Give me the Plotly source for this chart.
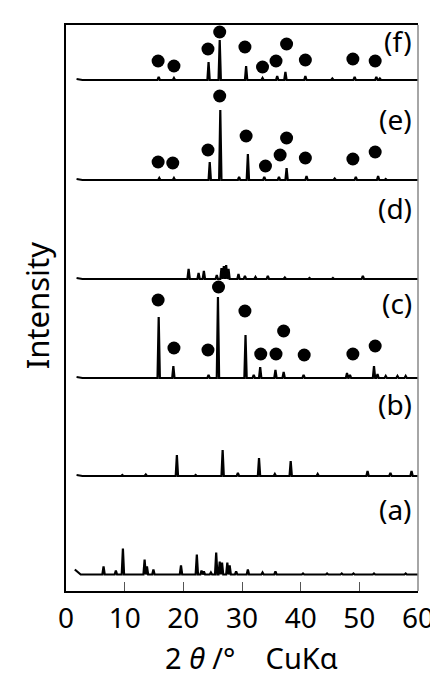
import plotly.graph_objects as go

# ---- data ----
x_ticks = [0, 10, 20, 30, 40, 50, 60]
labels = ["(a)", "(b)", "(c)", "(d)", "(e)", "(f)"]

# peak positions (2θ, deg) and heights (arb. units) per pattern
pos_a = [6.4, 8.5, 9.7, 13.4, 13.8, 14.9, 19.6, 22.3, 23.1, 23.5, 24.7, 25.6, 26.2, 26.6, 27.5, 27.9, 29.0, 31.0, 33.5, 35.7, 40.4, 44.5, 47.0, 49.0, 52.5, 57.9]
int_a = [8, 4, 26, 15, 8, 5, 9, 20, 4, 3, 2, 22, 13, 12, 12, 9, 3, 5, 2, 3, 1, 1, 1, 1, 1, 1]

pos_b = [9.6, 13.6, 18.9, 22.1, 26.7, 29.3, 32.9, 35.6, 38.3, 42.9, 51.4, 55.3, 58.9]
int_b = [1, 1.5, 21, 1, 26, 3, 18, 2, 15, 2, 5, 3, 5]

pos_c = [15.8, 18.3, 24.3, 25.9, 30.6, 32.0, 33.1, 35.7, 37.1, 40.5, 47.9, 48.4, 52.5, 53.1, 54.5, 56.5, 57.9]
int_c = [61, 12, 3, 81, 43, 3, 11, 8, 6, 3, 5, 3, 12, 4, 2, 2, 2]

pos_d = [20.9, 22.6, 23.5, 25.7, 26.5, 26.9, 27.3, 27.7, 29.4, 30.5, 32.3, 34.4, 37.3, 41.5, 45.5, 50.6]
int_d = [10, 6, 8, 4, 11, 13, 14, 10, 5, 3, 2, 3, 1.5, 1, 1, 3]

pos_e = [15.9, 18.4, 24.5, 26.3, 29.5, 31.0, 33.8, 36.3, 37.6, 41.0, 45.8, 49.4, 53.2, 54.5]
int_e = [2, 2, 18, 70, 3, 26, 3, 3, 12, 4, 1.5, 3, 4, 1]

pos_f = [15.8, 18.4, 24.3, 26.2, 30.7, 33.5, 36.0, 37.4, 40.8, 45.4, 49.2, 52.9, 53.5]
int_f = [3, 2, 18, 40, 14, 2, 4, 8, 4, 1.5, 3, 3, 1.5]

# start of each scan (2θ) and its initial intensity
start_x = [1.5, 1.8, 1.8, 1.8, 1.8, 1.8]
start_y = [5, 1, 1, 1, 1, 1]

# filled-circle phase markers (2θ, height above the pattern's baseline)
mark_c_x = [15.7, 18.4, 24.2, 26.0, 30.5, 33.2, 35.8, 37.1, 40.6, 48.9, 52.7]
mark_c_y = [78, 30, 28, 91, 67, 24, 24, 47, 23, 24, 32]
mark_e_x = [15.7, 18.2, 24.2, 26.2, 30.7, 34.0, 36.5, 37.6, 40.8, 48.9, 52.7]
mark_e_y = [18, 17, 30, 84, 44, 14, 25, 42, 22, 21, 28]
mark_f_x = [15.7, 18.4, 24.2, 26.2, 30.5, 33.5, 35.8, 37.6, 40.8, 48.9, 52.7]
mark_f_y = [19, 14, 31, 48, 33, 13, 19, 36, 20, 21, 19]

# ---- layout constants ----
offsets = [16.5, 115, 213, 312, 411, 511]       # vertical stacking offsets
label_y = [82, 187, 288, 383, 472, 550]
HALF_W = 0.2
X_END = 60

series = [(pos_a, int_a), (pos_b, int_b), (pos_c, int_c),
          (pos_d, int_d), (pos_e, int_e), (pos_f, int_f)]


def pattern(pos, inten, x0, y0, off):
    pts = [(x0, y0), (x0 + 1.0, 0.0), (X_END, 0.0)]
    for p, h in zip(pos, inten):
        pts += [(p - HALF_W, 0.0), (p, h), (p + HALF_W, 0.0)]
    pts.sort(key=lambda t: t[0])
    return [t[0] for t in pts], [t[1] + off for t in pts]


fig = go.Figure()
for i, (pos, inten) in enumerate(series):
    xs, ys = pattern(pos, inten, start_x[i], start_y[i], offsets[i])
    fig.add_trace(go.Scatter(x=xs, y=ys, mode="lines",
                             line=dict(color="black", width=2.2),
                             hoverinfo="skip", showlegend=False))

for mx, my, off in [(mark_c_x, mark_c_y, offsets[2]),
                    (mark_e_x, mark_e_y, offsets[4]),
                    (mark_f_x, mark_f_y, offsets[5])]:
    fig.add_trace(go.Scatter(x=mx, y=[v + off for v in my], mode="markers",
                             marker=dict(color="black", size=13),
                             hoverinfo="skip", showlegend=False))

for lab, ly in zip(labels, label_y):
    fig.add_annotation(x=59.4, y=ly, xref="x", yref="y", text=lab,
                       showarrow=False, xanchor="right", yanchor="middle",
                       font=dict(family="Noto Sans", size=28, color="black"))

fig.add_annotation(x=31.6, y=-0.117, xref="x", yref="paper",
                   text="2\u00a0<i>θ</i>\u00a0/°\u00a0\u00a0\u00a0\u00a0CuKα",
                   showarrow=False, xanchor="center", yanchor="middle",
                   borderpad=0,
                   font=dict(family="Noto Sans", size=29, color="black"))
fig.add_annotation(x=-0.082, y=0.505, xref="paper", yref="paper",
                   text="Intensity", textangle=-90,
                   showarrow=False, xanchor="center", yanchor="middle",
                   font=dict(family="Noto Sans", size=31, color="black"))

# right border (grey)
fig.add_shape(type="line", xref="paper", yref="paper", x0=1, x1=1, y0=0, y1=1,
              line=dict(color="#888888", width=1.5))

fig.update_layout(
    width=438, height=680,
    margin=dict(l=58, r=19, t=17, b=97),
    paper_bgcolor="white", plot_bgcolor="white",
    xaxis=dict(range=[0, 60], tickvals=x_ticks, ticks="inside", ticklen=9,
               tickcolor="#555555", tickwidth=1,
               showline=True, linecolor="black", linewidth=1.5, mirror=True,
               showgrid=False, zeroline=False, ticklabelstandoff=2,
               tickfont=dict(family="Noto Sans", size=28, color="black")),
    yaxis=dict(range=[0, 566], showticklabels=False, ticks="",
               showline=True, linecolor="black", linewidth=1.5,
               showgrid=False, zeroline=False),
)

fig.write_html("out.html")
